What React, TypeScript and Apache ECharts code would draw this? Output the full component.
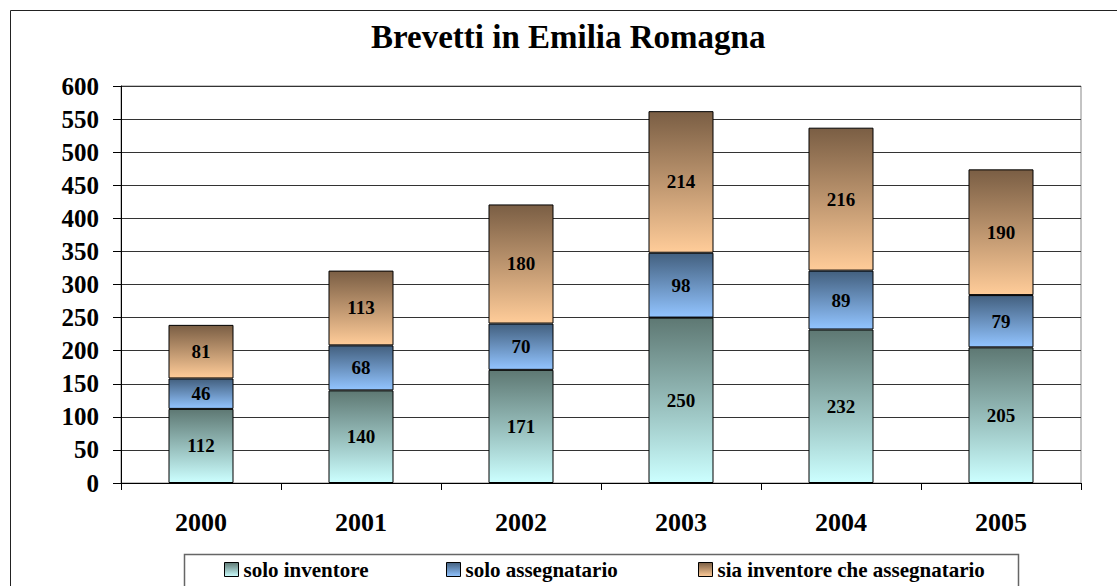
import React, { useEffect, useRef } from "react";
import * as echarts from "echarts";

const categories = ["2000", "2001", "2002", "2003", "2004", "2005"];
const soloInventore = [112, 140, 171, 250, 232, 205];
const soloAssegnatario = [46, 68, 70, 98, 89, 79];
const siaInventoreChe = [81, 113, 180, 214, 216, 190];
const seriesNames = ["solo inventore", "solo assegnatario", "sia inventore che assegnatario"];
const yTicks = { min: 0, max: 600, interval: 50 };

const FONT = "'Liberation Serif', 'Times New Roman', serif";

const grad = (top: string, bottom: string) =>
  new echarts.graphic.LinearGradient(0, 0, 0, 1, [
    { offset: 0, color: top },
    { offset: 1, color: bottom },
  ]);

export default function App() {
  const ref = useRef<HTMLDivElement>(null);
  useEffect(() => {
    if (!ref.current) return;
    const chart = echarts.init(ref.current, null, { renderer: "svg" });
    const label = {
      show: true,
      position: "inside" as const,
      color: "#000",
      fontFamily: FONT,
      fontWeight: "bold" as const,
      fontSize: 19,
    };
    const mk = (name: string, data: number[], top: string, bottom: string) => ({
      name,
      type: "bar" as const,
      stack: "total",
      data,
      barWidth: 65,
      label,
      itemStyle: { color: grad(top, bottom), borderColor: "#000", borderWidth: 1 },
      emphasis: { disabled: true },
    });
    const legendLefts = [224, 446, 698];
    const legends = seriesNames.map((n, i) => ({
      data: [n],
      left: legendLefts[i],
      top: 559,
      padding: 0,
      itemWidth: 14,
      itemHeight: 14,
      icon: "rect",
      z: 5,
      textStyle: { fontFamily: FONT, fontWeight: "bold", fontSize: 21, color: "#000" },
      itemStyle: { borderColor: "#000", borderWidth: 1 },
    }));
    chart.setOption({
      animation: false,
      backgroundColor: "#fff",
      title: {
        text: "Brevetti in Emilia Romagna",
        left: 371,
        top: 20,
        padding: 0,
        textStyle: { fontFamily: FONT, fontWeight: "bold", fontSize: 33, color: "#000" },
      },
      graphic: [
        {
          type: "rect",
          shape: { x: 10.5, y: 10.5, width: 1300, height: 800 },
          style: { fill: "none", stroke: "#222", lineWidth: 1 },
          silent: true,
          z: -1,
        },
        {
          type: "rect",
          shape: { x: 184.5, y: 554.5, width: 834, height: 100 },
          style: { fill: "#fff", stroke: "#666", lineWidth: 1.5 },
          silent: true,
          z: 0,
        },
      ],
      legend: legends,
      grid: {
        left: 121,
        right: 36,
        top: 86,
        bottom: 103,
        show: true,
        borderColor: "#888",
        borderWidth: 1,
        backgroundColor: "transparent",
      },
      xAxis: {
        type: "category",
        data: categories,
        axisLine: { show: true, lineStyle: { color: "#000", width: 1 } },
        axisTick: { show: true, length: 7, lineStyle: { color: "#000" } },
        axisLabel: { margin: 26, color: "#000", fontFamily: FONT, fontWeight: "bold", fontSize: 26 },
        splitLine: { show: false },
      },
      yAxis: {
        type: "value",
        min: yTicks.min,
        max: yTicks.max,
        interval: yTicks.interval,
        axisLine: { show: true, lineStyle: { color: "#000", width: 1 } },
        axisTick: { show: true, length: 8, lineStyle: { color: "#000" } },
        axisLabel: { margin: 22, color: "#000", fontFamily: FONT, fontWeight: "bold", fontSize: 25 },
        splitLine: { show: true, lineStyle: { color: "#333", width: 1 } },
      },
      series: [
        mk(seriesNames[0], soloInventore, "#5e7873", "#ccffff"),
        mk(seriesNames[1], soloAssegnatario, "#43607f", "#92c4ff"),
        mk(seriesNames[2], siaInventoreChe, "#7a5e44", "#ffcc99"),
      ],
    });
    return () => chart.dispose();
  }, []);
  return (
    <div
      ref={ref}
      style={{ position: "fixed", left: 0, top: 0, width: 1117, height: 586 }}
    />
  );
}
